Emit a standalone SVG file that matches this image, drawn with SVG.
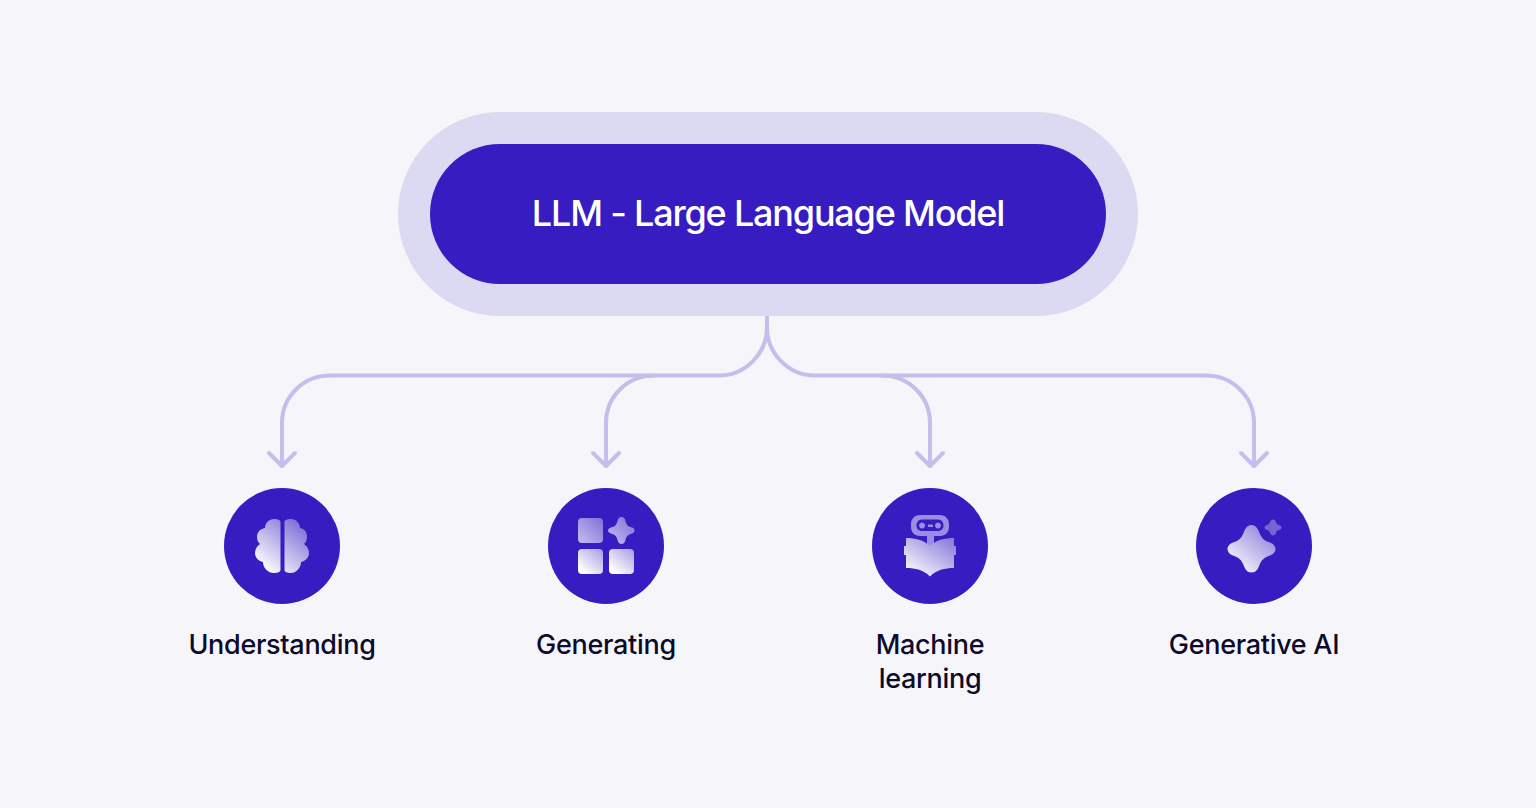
<svg xmlns="http://www.w3.org/2000/svg" width="1536" height="808" viewBox="0 0 1536 808">
<style>
.c{fill:none;stroke:#c5bdec;stroke-width:4;stroke-linecap:round;stroke-linejoin:round}
.disc{fill:#361cc1}
.lbl{font-family:Inter,"Liberation Sans",sans-serif;font-weight:500;font-size:27px;fill:#0d0a2c;text-anchor:middle;letter-spacing:-.3px}
.ttl{font-family:Inter,"Liberation Sans",sans-serif;font-weight:500;font-size:36px;fill:#fff;text-anchor:middle;letter-spacing:-1.2px}
</style>
<defs>
<linearGradient id="gb" gradientUnits="userSpaceOnUse" x1="306" y1="522" x2="266" y2="572"><stop offset="0" stop-color="#7566d4"/><stop offset="1" stop-color="#fff"/></linearGradient>
<linearGradient id="g1" x1="1" y1="0" x2="0.1" y2="1"><stop offset="0" stop-color="#8274d8"/><stop offset="1" stop-color="#fff"/></linearGradient>
<linearGradient id="g2" x1="1" y1="0" x2="0.2" y2="0.9"><stop offset="0" stop-color="#a79ce4"/><stop offset="1" stop-color="#fff"/></linearGradient>
<linearGradient id="g3" x1="1" y1="0" x2="0" y2="1"><stop offset="0" stop-color="#8070d8"/><stop offset="1" stop-color="#c5bdf0"/></linearGradient>
</defs>
<rect width="1536" height="808" fill="#f6f6fa"/>
<g id="connectors" class="c">
<path d="M767 317V327C767 354 745 375.500 719 375.500H330C303 375.500 282 397 282 423V466"/>
<path d="M767 327C767 354 789 375.500 815 375.500H1206C1233 375.500 1254 397 1254 423V466"/>
<path d="M654 375.500C627 375.500 606 397 606 423V466"/>
<path d="M882 375.500C909 375.500 930 397 930 423V466"/>
<path d="M269 453L282 466L295 453"/>
<path d="M593 453L606 466L619 453"/>
<path d="M917 453L930 466L943 453"/>
<path d="M1241 453L1254 466L1267 453"/>
</g>
<g id="node-llm">
<rect x="398" y="112" width="740" height="204" rx="102" fill="#dcd9f3"/>
<rect x="430" y="144" width="676" height="140" rx="70" fill="#361cc1"/>
<text class="ttl" x="768" y="226">LLM - Large Language Model</text>
</g>
<g id="node-understanding">
<circle class="disc" cx="282" cy="546" r="58"/>
<path fill="url(#gb)" d="M280.500 522C280.500 520 278 519 274 519C269 519 265 523 265 528C260 529 257 532 257 537C257 540 258 542 260 544C257 546 255 549 255 553C255 557 258 561 263 562C263 568 268 573 274 573C278 573 280.500 572 280.500 570Z"/>
<path fill="url(#gb)" d="M284.500 522C284.500 520 287 519 291 519C296 519 300 523 300 528C305 529 307 532 307 537C307 540 306 542 304 544C307 546 309 549 309 553C309 557 306 561 301 562C301 568 296 573 291 573C287 573 284.500 572 284.500 570Z"/>
<text class="lbl" x="282" y="654">Understanding</text>
</g>
<g id="node-generating">
<circle class="disc" cx="606" cy="546" r="58"/>
<rect x="578" y="518" width="25" height="25" rx="4" fill="url(#g3)"/>
<rect x="578" y="549" width="25" height="25" rx="4" fill="url(#g2)"/>
<rect x="609" y="549" width="25" height="25" rx="4" fill="url(#g2)"/>
<path fill="url(#g3)" d="M621.500 517C624 517 625 519 625.500 521C626.500 525 628 526.500 632 527.500C634 528 634.500 529.500 634.500 530.500C634.500 531.500 634 533 632 533.500C628 534.500 626.500 536 625.500 540C625 542 624 544 621.500 544C619 544 618 542 617.500 540C616.500 536 615 534.500 611 533.500C609 533 608 531.500 608 530.500C608 529.500 609 528 611 527.500C615 526.500 616.500 525 617.500 521C618 519 619 517 621.500 517Z"/>
<text class="lbl" x="606" y="654">Generating</text>
</g>
<g id="node-machine-learning">
<circle class="disc" cx="930" cy="546" r="58"/>
<path fill="#9a8ee2" fill-rule="evenodd" d="M920 515H940C945.500 515 949 519 949 524V527C949 532 945.500 536 940 536H934V544.500L930 547L927 544.500V536H920C914.500 536 911 532 911 527V524C911 519 914.500 515 920 515ZM922 519.500C918.500 519.500 916.500 522.500 916.500 525.500C916.500 528.500 918.500 531 922 531H938C941.500 531 943.500 528.500 943.500 525.500C943.500 522.500 941.500 519.500 938 519.500Z"/>
<path fill="#9a8ee2" d="M922 522.500a3 3 0 1 0 .01 0ZM938 522.500a3 3 0 1 0 .01 0ZM928 524.500h5v2.500h-5Z"/>
<path fill="url(#g1)" d="M906 538C915 538 924 540 930 546C936 540 945 538 954 538V546H956V555H954V568C945 568 936 570 930 576.500C924 570 915 568 906 568V555H904V546H906Z"/>
<text class="lbl" x="930" y="654">Machine</text>
<text class="lbl" x="930" y="688">learning</text>
</g>
<g id="node-generative-ai">
<circle class="disc" cx="1254" cy="546" r="58"/>
<path fill="url(#g1)" d="M1251.500 525C1256 525 1258 529 1259.500 533C1261.500 538 1264 540.500 1270 542.500C1273 543.500 1275.500 546 1275.500 549C1275.500 552 1273 554.500 1270 555.500C1264 557.500 1261.500 560 1259.500 565C1258 569 1256 572.500 1251.500 572.500C1247 572.500 1245 569 1243.500 565C1241.500 560 1239 557.500 1233 555.500C1230 554.500 1227.500 552 1227.500 549C1227.500 546 1230 543.500 1233 542.500C1239 540.500 1241.500 538 1243.500 533C1245 529 1247 525 1251.500 525Z"/>
<path fill="#7465d3" d="M1273 519.500C1274.500 519.500 1275.500 520.500 1276 522C1276.500 524 1277 524.500 1279 525C1280.500 525.500 1281.500 526.500 1281.500 527.500C1281.500 528.500 1280.500 529.500 1279 530C1277 530.500 1276.500 531 1276 533C1275.500 534.500 1274.500 535.500 1273 535.500C1271.500 535.500 1270.500 534.500 1270 533C1269.500 531 1269 530.500 1267 530C1265.500 529.500 1264.500 528.500 1264.500 527.500C1264.500 526.500 1265.500 525.500 1267 525C1269 524.500 1269.500 524 1270 522C1270.500 520.500 1271.500 519.500 1273 519.500Z"/>
<text class="lbl" x="1254" y="654">Generative AI</text>
</g>
</svg>
